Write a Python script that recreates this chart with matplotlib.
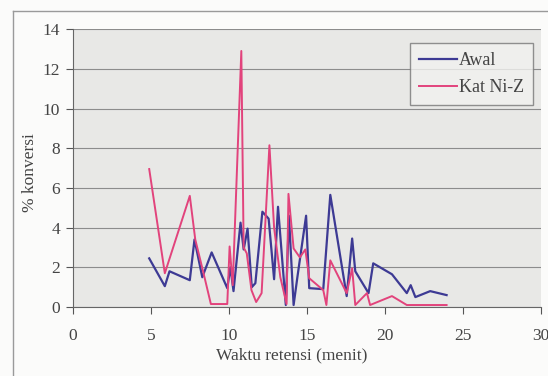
import matplotlib.pyplot as plt
from matplotlib.lines import Line2D

plt.rcParams['font.family'] = ['Liberation Serif', 'DejaVu Serif']

# data Awal (biru)
awal_x = [4.9, 5.9, 6.2, 7.5, 7.8, 8.3, 8.9, 9.9, 10.1, 10.3, 10.75, 10.95, 11.2,
          11.47, 11.7, 12.15, 12.55, 12.9, 13.15, 13.65, 13.85, 14.15, 14.4, 14.95,
          15.15, 16.05, 16.5, 17.55, 17.9, 18.1, 18.95, 19.25, 20.45, 21.4, 21.65,
          21.95, 22.9, 23.95]
awal_y = [2.45, 1.05, 1.8, 1.35, 3.4, 1.5, 2.75, 0.95, 2.0, 0.8, 4.25, 2.9, 3.95,
          1.0, 1.2, 4.8, 4.45, 1.4, 5.05, 0.1, 4.6, 0.1, 1.55, 4.6,
          0.95, 0.9, 5.65, 0.55, 3.45, 1.8, 0.7, 2.2, 1.65, 0.7, 1.1,
          0.5, 0.8, 0.6]

# data Kat Ni-Z (merah)
kat_x = [4.9, 5.9, 7.5, 7.85, 8.35, 8.85, 9.9, 10.05, 10.25, 10.8, 10.95, 11.15,
         11.45, 11.75, 11.95, 12.1, 12.35, 12.6, 12.9, 13.3, 13.7, 13.82, 14.15,
         14.55, 14.9, 15.15, 16.05, 16.25, 16.5, 17.55, 17.9, 18.1, 18.85, 19.05,
         20.45, 21.4, 22.5, 23.95]
kat_y = [6.95, 1.7, 5.6, 3.4, 1.8, 0.15, 0.15, 3.05, 1.1, 12.9, 3.0, 2.7,
         0.85, 0.25, 0.5, 0.7, 4.4, 8.15, 4.0, 1.5, 0.15, 5.7, 2.95,
         2.5, 2.9, 1.45, 0.85, 0.1, 2.35, 0.7, 1.95, 0.1, 0.7, 0.1,
         0.55, 0.1, 0.1, 0.1]

xticks = [0, 5, 10, 15, 20, 25, 30]
yticks = [0, 2, 4, 6, 8, 10, 12, 14]

biru = '#3d3a94'
merah = '#e2437c'

fig = plt.figure(figsize=(5.48, 3.76), dpi=100, facecolor='#fbfbfa')
ax = fig.add_axes([0.1327, 0.1835, 0.8546, 0.739])
ax.set_facecolor('#e8e8e6')

# bingkai luar
fig.add_artist(Line2D([13 / 548, 13 / 548], [0, 1 - 11 / 376], color='#9a9a9a', lw=1))
fig.add_artist(Line2D([13 / 548, 1], [1 - 11 / 376, 1 - 11 / 376], color='#9a9a9a', lw=1))

ax.plot(awal_x, awal_y, color=biru, lw=1.6, label='Awal')
ax.plot(kat_x, kat_y, color=merah, lw=1.4, label='Kat Ni-Z')

ax.set_xlim(0, 30)
ax.set_ylim(0, 14)
ax.set_xticks(xticks)
ax.set_yticks(yticks)
ax.tick_params(labelsize=12.5, colors='#555555', labelcolor='#444444', length=5)
ax.tick_params(axis='x', pad=10)
ax.tick_params(axis='y', pad=4)
ax.yaxis.grid(True, color='#8c8c8c', lw=0.8)
ax.set_axisbelow(True)
for s in ['top', 'right']:
    ax.spines[s].set_visible(False)
for s in ['left', 'bottom']:
    ax.spines[s].set_color('#666666')

fig.text(292 / 548, 0.045, 'Waktu retensi (menit)', ha='center', fontsize=12.5, color='#444444')
fig.text(30 / 548, 0.54, '% konversi', rotation=90, va='center', ha='center',
         fontsize=12.5, color='#444444')

leg = ax.legend(loc='upper right', bbox_to_anchor=(0.983, 0.95), borderaxespad=0,
                fontsize=13, frameon=True, fancybox=False, handlelength=2.1,
                handletextpad=0.1, borderpad=0.5, labelspacing=0.55)
leg.get_frame().set_edgecolor('#777777')
leg.get_frame().set_facecolor('#f2f2f0')
for t in leg.get_texts():
    t.set_color('#444444')

plt.savefig('out.png', dpi=100, facecolor=fig.get_facecolor())
